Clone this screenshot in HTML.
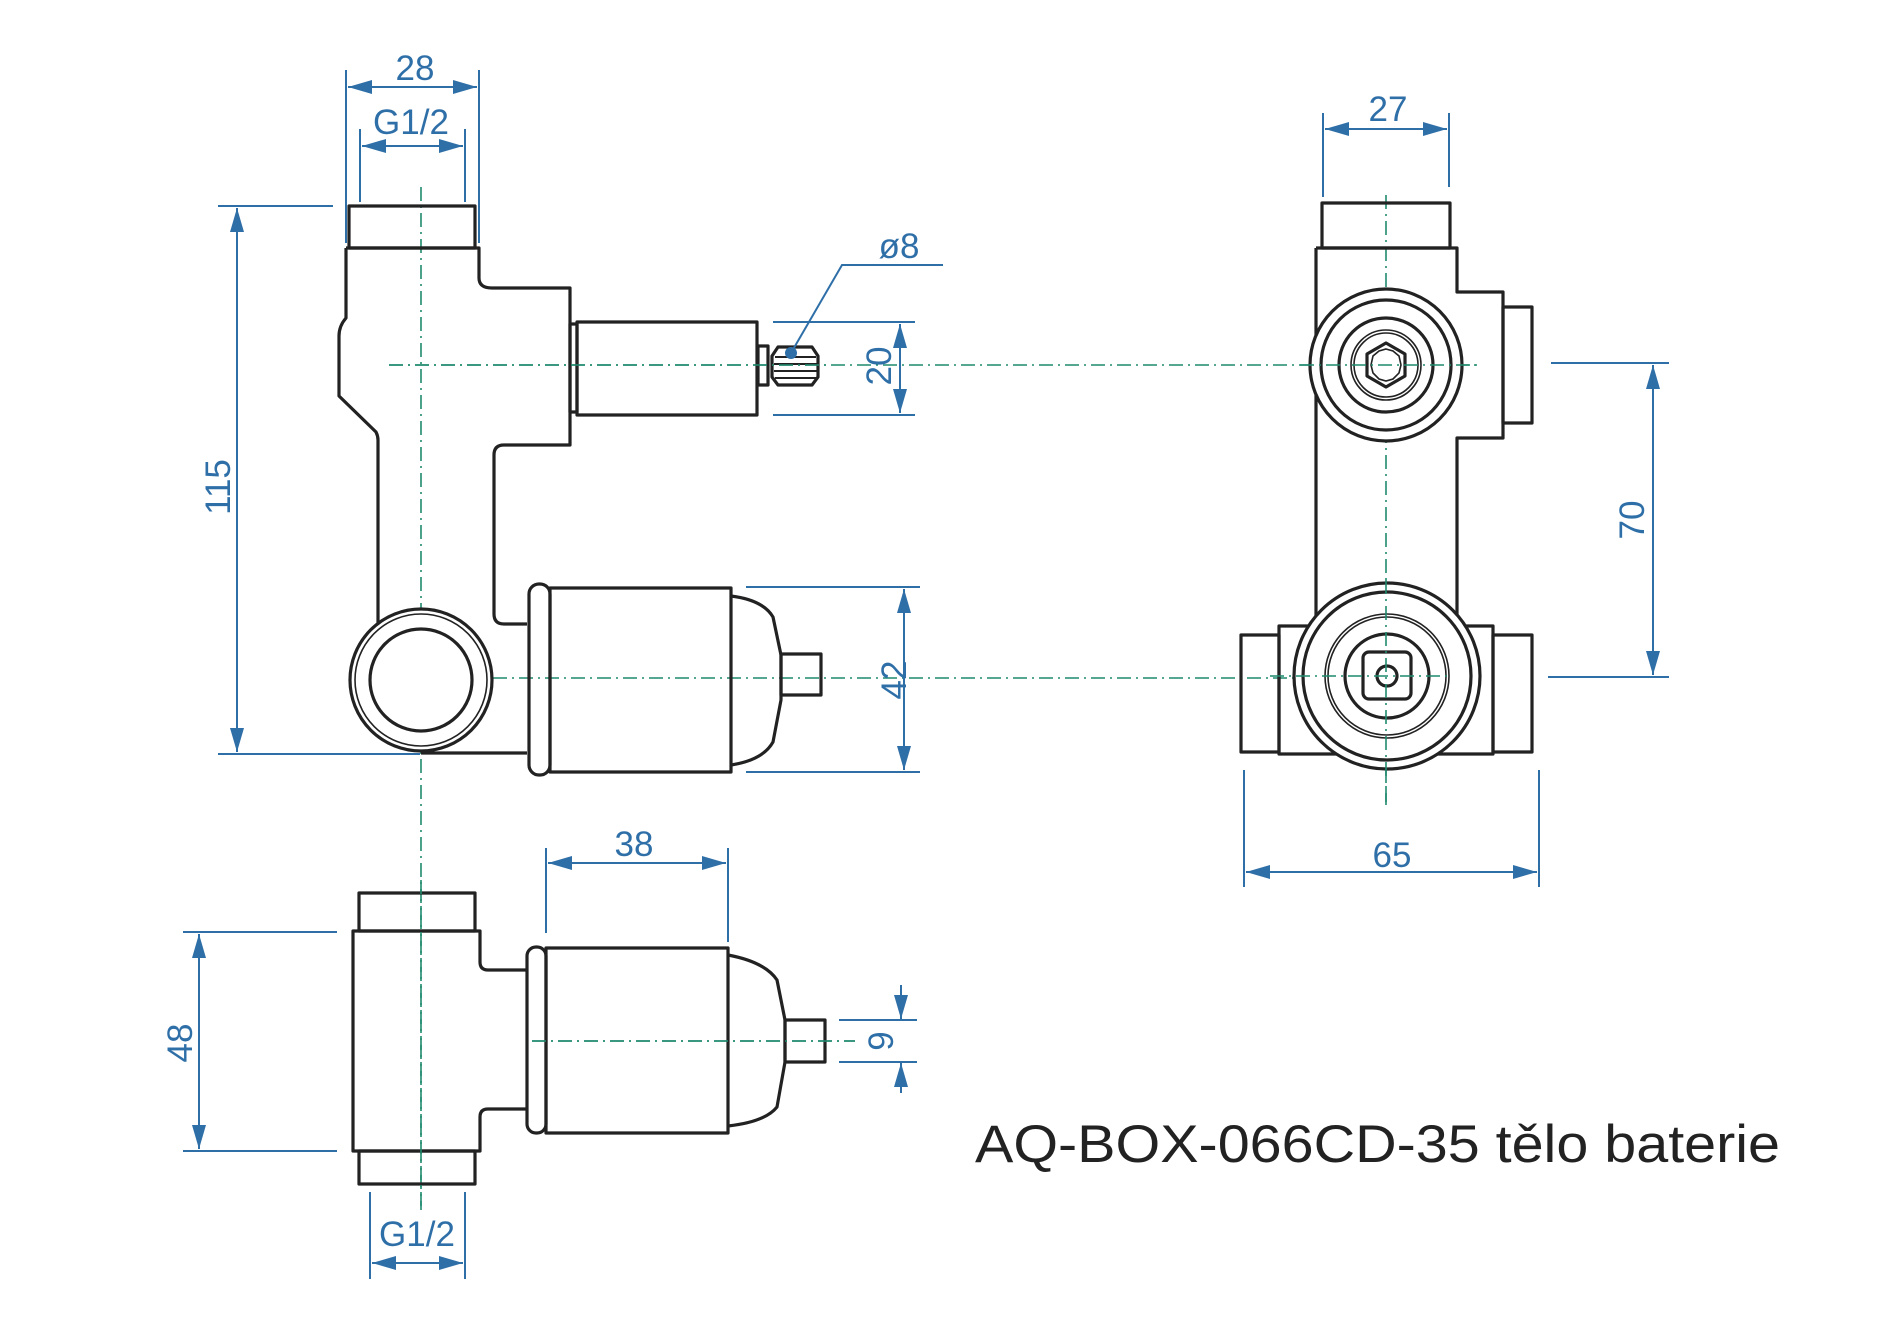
<!DOCTYPE html>
<html><head><meta charset="utf-8"><style>
html,body{margin:0;padding:0;background:#fff}
svg{display:block}
.k{fill:none;stroke:#222;stroke-width:3.2;stroke-linejoin:round}
.kt{fill:none;stroke:#222;stroke-width:1.6}
.b{fill:none;stroke:#2f6fa8;stroke-width:2}
.c{fill:none;stroke:#1f8a6e;stroke-width:1.6;stroke-dasharray:14 5 2 5}
.t{font-family:"Liberation Sans",sans-serif;fill:#2f6fa8;font-size:35px}
</style></head><body>
<svg width="1900" height="1323" viewBox="0 0 1900 1323" xmlns="http://www.w3.org/2000/svg">
<defs>
<marker id="a" viewBox="0 0 24 14" refX="24" refY="7" markerWidth="24" markerHeight="14" markerUnits="userSpaceOnUse" orient="auto-start-reverse"><path d="M0,0 L24,7 L0,14 Z" fill="#2f6fa8"/></marker>
</defs>

<!-- centerlines -->
<line class="c" x1="421" y1="187" x2="421" y2="1210"/>
<line class="c" x1="389" y1="365" x2="1478" y2="365"/>
<line class="c" x1="389" y1="678" x2="1448" y2="678"/>
<line class="c" x1="1386" y1="195" x2="1386" y2="805"/>
<line class="c" x1="532" y1="1041" x2="855" y2="1041"/>

<!-- LEFT VIEW -->
<rect class="k" x="349" y="206" width="126" height="42"/>
<path class="k" d="M346,248 L479,248 L479,278 Q479,288 492,288 L570,288 L570,445 L504,445 Q494,445 494,455 L494,614 Q494,624 504,624 L527,624"/>
<path class="k" d="M346,248 L346,318 Q339,326 339,336 L339,396 L376,432 Q378,436 378,440 L378,626"/>
<circle cx="421" cy="680" r="71" fill="#fff" stroke="#222" stroke-width="3.2"/>
<circle class="kt" cx="421" cy="680" r="66"/>
<circle class="k" cx="421" cy="680" r="51"/>
<line class="k" x1="421" y1="753" x2="527" y2="753"/>
<rect class="k" x="570" y="324" width="7" height="88"/>
<rect class="k" x="577" y="322" width="180" height="93"/>
<rect class="k" x="758" y="346" width="10" height="39"/>
<path class="k" d="M778,347 L812,347 L818,356 L818,377 L812,385 L778,385 L772,377 L772,356 Z"/>
<path stroke="#222" stroke-width="2" d="M775,357H816M774,364H818M774,371H818M775,378H816"/>
<line class="c" x1="389" y1="365" x2="830" y2="365"/>
<rect class="k" x="529" y="584" width="21" height="191" rx="10"/>
<rect class="k" x="550" y="588" width="181" height="184"/>
<path class="k" d="M731,596 Q763,600 773,617 L781,655 L781,700 L773,742 Q763,760 731,765"/>
<rect class="k" x="781" y="654" width="40" height="41"/>

<!-- RIGHT VIEW -->
<rect class="k" x="1322" y="203" width="128" height="45"/>
<path class="k" d="M1316,248 L1457,248 L1457,292 L1503,292 L1503,438 L1457,438 L1457,625 M1316,248 L1316,625"/>
<rect class="k" x="1503" y="307" width="29" height="116"/>
<circle cx="1386" cy="365" r="76" fill="#fff" stroke="#222" stroke-width="3.2"/>
<circle class="k" cx="1386" cy="365" r="65"/>
<circle class="k" cx="1386" cy="365" r="47"/>
<circle class="kt" cx="1386" cy="365" r="35"/>
<circle class="kt" cx="1386" cy="365" r="32"/>
<polygon class="k" stroke-width="2.6" points="1386,343 1405,354 1405,376 1386,387 1367,376 1367,354"/>
<polygon fill="none" stroke="#222" stroke-width="1.6" points="1386,349 1393,351 1399,356 1401,365 1399,373 1393,379 1386,381 1379,379 1373,373 1371,365 1373,356 1379,351"/>
<line class="c" x1="1300" y1="365" x2="1478" y2="365"/>
<rect class="k" x="1279" y="626" width="214" height="128"/>
<rect class="k" x="1241" y="635" width="38" height="117"/>
<rect class="k" x="1493" y="635" width="39" height="117"/>
<circle cx="1387" cy="676" r="93" fill="#fff" stroke="#222" stroke-width="3.2"/>
<circle class="k" cx="1387" cy="676" r="84"/>
<circle class="kt" cx="1387" cy="676" r="62"/>
<circle class="kt" cx="1387" cy="676" r="59"/>
<circle class="k" cx="1387" cy="676" r="42"/>
<rect class="k" x="1363" y="652" width="48" height="47" rx="6"/>
<circle class="k" cx="1387" cy="676" r="10"/>
<line class="c" x1="1270" y1="676" x2="1450" y2="676"/>
<line class="c" x1="1386" y1="580" x2="1386" y2="805"/>

<!-- BOTTOM VIEW -->
<rect class="k" x="359" y="893" width="116" height="38"/>
<rect class="k" x="359" y="1151" width="116" height="33"/>
<path class="k" d="M527,970 L488,970 Q480,970 480,962 L480,931 L353,931 L353,1151 L480,1151 L480,1117 Q480,1109 488,1109 L527,1109"/>
<rect class="k" x="527" y="947" width="19" height="186" rx="9"/>
<rect class="k" x="546" y="948" width="182" height="185"/>
<path class="k" d="M728,955 Q765,962 777,980 L785,1020 L785,1062 L777,1107 Q765,1122 728,1126"/>
<rect class="k" x="785" y="1020" width="40" height="42"/>
<line class="c" x1="532" y1="1041" x2="855" y2="1041"/>
<line class="c" x1="421" y1="880" x2="421" y2="1210"/>

<!-- DIMENSIONS -->
<line class="b" x1="346" y1="70" x2="346" y2="243"/><line class="b" x1="479" y1="70" x2="479" y2="243"/>
<line class="b" x1="348" y1="87" x2="477" y2="87" marker-start="url(#a)" marker-end="url(#a)"/>
<text class="t" x="415" y="80" text-anchor="middle">28</text>
<line class="b" x1="360" y1="129" x2="360" y2="202"/><line class="b" x1="465" y1="129" x2="465" y2="202"/>
<line class="b" x1="362" y1="146" x2="463" y2="146" marker-start="url(#a)" marker-end="url(#a)"/>
<text class="t" x="411" y="134" text-anchor="middle">G1/2</text>
<line class="b" x1="218" y1="206" x2="333" y2="206"/><line class="b" x1="218" y1="754" x2="420" y2="754"/>
<line class="b" x1="237" y1="208" x2="237" y2="752" marker-start="url(#a)" marker-end="url(#a)"/>
<text class="t" transform="translate(230,487) rotate(-90)" text-anchor="middle">115</text>
<line class="b" x1="773" y1="322" x2="915" y2="322"/><line class="b" x1="773" y1="415" x2="915" y2="415"/>
<line class="b" x1="900" y1="324" x2="900" y2="413" marker-start="url(#a)" marker-end="url(#a)"/>
<text class="t" transform="translate(891,366) rotate(-90)" text-anchor="middle">20</text>
<polyline class="b" points="791,353 842,265 943,265"/>
<circle cx="791" cy="353" r="6" fill="#2f6fa8"/>
<text class="t" x="899" y="258" text-anchor="middle">ø8</text>
<line class="b" x1="746" y1="587" x2="920" y2="587"/><line class="b" x1="746" y1="772" x2="920" y2="772"/>
<line class="b" x1="904" y1="589" x2="904" y2="770" marker-start="url(#a)" marker-end="url(#a)"/>
<text class="t" transform="translate(906,680) rotate(-90)" text-anchor="middle">42</text>
<line class="b" x1="1323" y1="113" x2="1323" y2="197"/><line class="b" x1="1449" y1="113" x2="1449" y2="187"/>
<line class="b" x1="1325" y1="129" x2="1447" y2="129" marker-start="url(#a)" marker-end="url(#a)"/>
<text class="t" x="1388" y="121" text-anchor="middle">27</text>
<line class="b" x1="1551" y1="363" x2="1669" y2="363"/><line class="b" x1="1548" y1="677" x2="1669" y2="677"/>
<line class="b" x1="1653" y1="365" x2="1653" y2="675" marker-start="url(#a)" marker-end="url(#a)"/>
<text class="t" transform="translate(1644,520) rotate(-90)" text-anchor="middle">70</text>
<line class="b" x1="1244" y1="770" x2="1244" y2="887"/><line class="b" x1="1539" y1="770" x2="1539" y2="887"/>
<line class="b" x1="1246" y1="872" x2="1537" y2="872" marker-start="url(#a)" marker-end="url(#a)"/>
<text class="t" x="1392" y="867" text-anchor="middle">65</text>
<line class="b" x1="546" y1="848" x2="546" y2="933"/><line class="b" x1="728" y1="848" x2="728" y2="942"/>
<line class="b" x1="548" y1="863" x2="726" y2="863" marker-start="url(#a)" marker-end="url(#a)"/>
<text class="t" x="634" y="856" text-anchor="middle">38</text>
<line class="b" x1="183" y1="932" x2="337" y2="932"/><line class="b" x1="183" y1="1151" x2="337" y2="1151"/>
<line class="b" x1="199" y1="934" x2="199" y2="1149" marker-start="url(#a)" marker-end="url(#a)"/>
<text class="t" transform="translate(192,1043) rotate(-90)" text-anchor="middle">48</text>
<line class="b" x1="839" y1="1020" x2="917" y2="1020"/><line class="b" x1="839" y1="1062" x2="917" y2="1062"/>
<line class="b" x1="901" y1="985" x2="901" y2="1019" marker-end="url(#a)"/>
<line class="b" x1="901" y1="1093" x2="901" y2="1063" marker-end="url(#a)"/>
<text class="t" transform="translate(893,1041) rotate(-90)" text-anchor="middle">9</text>
<line class="b" x1="370" y1="1192" x2="370" y2="1279"/><line class="b" x1="465" y1="1192" x2="465" y2="1279"/>
<line class="b" x1="372" y1="1263" x2="463" y2="1263" marker-start="url(#a)" marker-end="url(#a)"/>
<text class="t" x="417" y="1246" text-anchor="middle">G1/2</text>

<text x="975" y="1162" font-family="Liberation Sans, sans-serif" font-size="53" fill="#222" textLength="805" lengthAdjust="spacingAndGlyphs">AQ-BOX-066CD-35  tělo baterie</text>
</svg>
</body></html>
